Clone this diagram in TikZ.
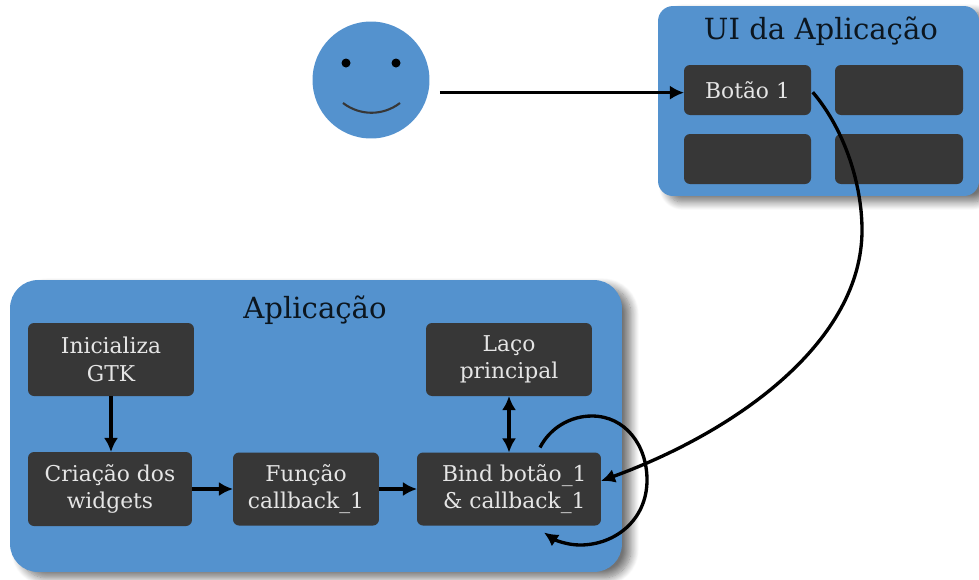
\documentclass[tikz,border=0pt]{standalone}
\usepackage{fontspec}
\setmainfont{DejaVu Serif}
\usepackage{xcolor}
\usetikzlibrary{arrows.meta,shadows.blur}
\definecolor{PanelBlue}{HTML}{5492CE}
\definecolor{BoxGray}{HTML}{373737}
\tikzset{
  panelbox/.style={fill=PanelBlue,outer sep=0pt,
    blur shadow={shadow xshift=0.18cm,shadow yshift=-0.12cm,shadow opacity=55,shadow blur steps=12,shadow blur radius=0.16cm}},
  darkbox/.style={fill=BoxGray,text=white!90!black,rounded corners=0.12cm,align=center,
    outer sep=0pt,inner sep=0pt,font=\fontsize{12.4}{15.6}\selectfont},
  titletext/.style={text=black!85!PanelBlue,font=\fontsize{16.6}{20}\selectfont},
  flow/.style={line width=1.9pt,-{Latex[length=8pt,width=8pt]}},
  twoway/.style={line width=1.9pt,{Latex[length=8pt,width=8pt]}-{Latex[length=8pt,width=8pt]}},
}
\begin{document}
\begin{tikzpicture}[x=0.02cm,y=-0.02cm]%
  \useasboundingbox (0,0) rectangle (979,579);
  % panels
  \node[panelbox,rounded corners=0.3cm,minimum width=6.42cm,minimum height=3.8cm] (uipanel) at (818.5,101) {};
  \node[panelbox,rounded corners=0.56cm,minimum width=12.24cm,minimum height=5.84cm] (apppanel) at (316,426) {};
  \node[titletext] (uititle) at (821,31) {UI da Aplicação};
  \node[titletext] (apptitle) at (315,310) {Aplicação};
  % face
  \node[circle,fill=PanelBlue,minimum size=2.34cm,inner sep=0pt] (face) at (371,80) {};
  \fill (346,63) circle (0.09cm);
  \fill (396,63) circle (0.09cm);
  \draw[BoxGray,line width=1.2pt] (343,103) .. controls (360,116) and (383,116) .. (400,103);
  % buttons
  \node[darkbox,minimum width=2.54cm,minimum height=1cm] (btnone) at (747.5,90) {Botão 1};
  \node[darkbox,minimum width=2.56cm,minimum height=1cm] (btntwo) at (899,90) {};
  \node[darkbox,minimum width=2.54cm,minimum height=1cm] (btnthree) at (747.5,159) {};
  \node[darkbox,minimum width=2.56cm,minimum height=1cm] (btnfour) at (899,159) {};
  % application steps
  \node[darkbox,minimum width=3.32cm,minimum height=1.46cm] (init) at (111,359.5) {Inicializa\\GTK};
  \node[darkbox,minimum width=3.28cm,minimum height=1.48cm] (widgets) at (110,489) {Criação dos\\widgets};
  \node[darkbox,minimum width=2.92cm,minimum height=1.46cm] (callback) at (306,489) {Função\\callback\_1};
  \node[darkbox,minimum width=3.68cm,minimum height=1.46cm] (bind) at (509,489) {\hspace*{6pt}Bind botão\_1\\\hspace*{6pt}\& callback\_1};
  \node[darkbox,minimum width=3.32cm,minimum height=1.46cm] (mainloop) at (509,359.5) {Laço\\principal};
  % connectors
  \draw[flow] ([yshift=-7.2pt]face.east) ++(10,0) coordinate (facestart) -- (btnone.west |- facestart);
  \draw[flow] (init.south) -- (init.south |- widgets.north);
  \draw[flow] (widgets) -- (callback);
  \draw[flow] (callback) -- (bind);
  \draw[twoway] (mainloop) -- (bind);
  \draw[flow] ([xshift=1pt]btnone.-2) .. controls (845,130) and (862,185) .. (862,230)
    .. controls (862,340) and (740,430) .. (bind.5);
  \draw[flow] ([shift={(31,-5)}]bind.north) .. controls (550,428) and (570,416) .. (592,416)
    .. controls (625,416) and (647,445) .. (647,480)
    .. controls (647,520) and (615,545) .. (580,545)
    .. controls (567,545) and (555,540) .. ([shift={(35,7)}]bind.south);
\end{tikzpicture}
\end{document}
